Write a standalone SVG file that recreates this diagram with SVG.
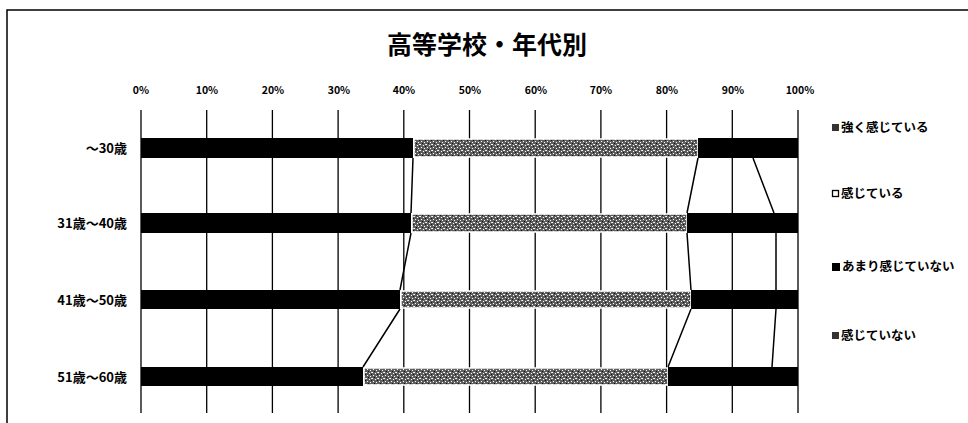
<svg xmlns="http://www.w3.org/2000/svg" width="968" height="423" viewBox="0 0 968 423">
<defs>
<pattern id="stip" width="6" height="6" patternUnits="userSpaceOnUse">
<rect width="6" height="6" fill="#5e5e5e"/>
<rect x="0" y="0" width="1" height="1" fill="#fff"/>
<rect x="3" y="1" width="1" height="1" fill="#fff"/>
<rect x="1" y="3" width="1" height="1" fill="#fff"/>
<rect x="4" y="4" width="1" height="1" fill="#fff"/>
<rect x="5" y="0" width="1" height="1" fill="#ddd"/>
<rect x="2" y="5" width="1" height="1" fill="#111"/>
<rect x="5" y="2" width="1" height="1" fill="#111"/>
</pattern>
<style>
text{font-family:"Noto Sans CJK JP","Noto Sans",sans-serif;fill:#000;font-weight:bold}
.ax{font-size:10.5px;text-anchor:middle}
.cat{font-size:13px;text-anchor:end}
.leg{font-size:12.5px}
.grid{stroke:#000;stroke-width:1.3}
.blk{fill:#000}
.mid{fill:url(#stip);stroke:#fff;stroke-width:1.5}
.ser{stroke:#000;stroke-width:1.5;fill:none}
</style>
</defs>
<rect width="968" height="423" fill="#fff"/>
<path d="M7 423V10H968" fill="none" stroke="#000" stroke-width="1.5"/>
<text x="487" y="54" style="font-size:25px;text-anchor:middle">高等学校・年代別</text>
<g id="axis">
<text class="ax" x="141" y="94">0%</text>
<text class="ax" x="207" y="94">10%</text>
<text class="ax" x="273" y="94">20%</text>
<text class="ax" x="339" y="94">30%</text>
<text class="ax" x="404" y="94">40%</text>
<text class="ax" x="470" y="94">50%</text>
<text class="ax" x="536" y="94">60%</text>
<text class="ax" x="601" y="94">70%</text>
<text class="ax" x="667" y="94">80%</text>
<text class="ax" x="733" y="94">90%</text>
<text class="ax" x="800" y="94">100%</text>
</g>
<g id="grid">
<line class="grid" x1="141" y1="110" x2="141" y2="413"/>
<line class="grid" x1="206.7" y1="110" x2="206.7" y2="413"/>
<line class="grid" x1="272.4" y1="110" x2="272.4" y2="413"/>
<line class="grid" x1="338.1" y1="110" x2="338.1" y2="413"/>
<line class="grid" x1="403.8" y1="110" x2="403.8" y2="413"/>
<line class="grid" x1="469.5" y1="110" x2="469.5" y2="413"/>
<line class="grid" x1="535.2" y1="110" x2="535.2" y2="413"/>
<line class="grid" x1="600.9" y1="110" x2="600.9" y2="413"/>
<line class="grid" x1="666.6" y1="110" x2="666.6" y2="413"/>
<line class="grid" x1="732.3" y1="110" x2="732.3" y2="413"/>
<line class="grid" x1="798" y1="110" x2="798" y2="413"/>
</g>
<g id="bar-30">
<text class="cat" x="127" y="153">～30歳</text>
<rect class="blk" x="141" y="138" width="272" height="20"/>
<rect class="mid" x="414" y="139" width="284" height="18"/>
<rect class="blk" x="698" y="138" width="100" height="20"/>
</g>
<g id="bar-40">
<text class="cat" x="127" y="228">31歳～40歳</text>
<rect class="blk" x="141" y="213" width="270" height="20"/>
<rect class="mid" x="412" y="214" width="275" height="18"/>
<rect class="blk" x="687" y="213" width="111" height="20"/>
</g>
<g id="bar-50">
<text class="cat" x="127" y="305">41歳～50歳</text>
<rect class="blk" x="141" y="290" width="259" height="19"/>
<rect class="mid" x="401" y="291" width="290" height="17"/>
<rect class="blk" x="691" y="290" width="107" height="19"/>
</g>
<g id="bar-60">
<text class="cat" x="127" y="382">51歳～60歳</text>
<rect class="blk" x="141" y="367" width="222" height="19"/>
<rect class="mid" x="364" y="368" width="304" height="17"/>
<rect class="blk" x="668" y="367" width="130" height="19"/>
</g>
<g id="connectors">
<path class="ser" d="M413 158L411 213M411 233L400 290M400 309L363 367"/>
<path class="ser" d="M698 158L687 213M687 233L691 290M691 309L668 367"/>
<path class="ser" d="M753 158L774 213M776 233L776 290M776 309L772 367"/>
</g>
<g id="legend">
<rect x="832" y="124" width="7" height="7" fill="#333"/>
<text class="leg" x="841" y="132">強く感じている</text>
<rect x="832.5" y="190.5" width="6" height="6" fill="#fff" stroke="#000" stroke-width="1.3"/>
<text class="leg" x="841" y="198">感じている</text>
<rect x="832" y="263" width="8" height="8" fill="#000"/>
<text class="leg" x="842" y="271">あまり感じていない</text>
<rect x="832" y="332" width="7" height="7" fill="#333"/>
<text class="leg" x="841" y="340">感じていない</text>
</g>
</svg>
